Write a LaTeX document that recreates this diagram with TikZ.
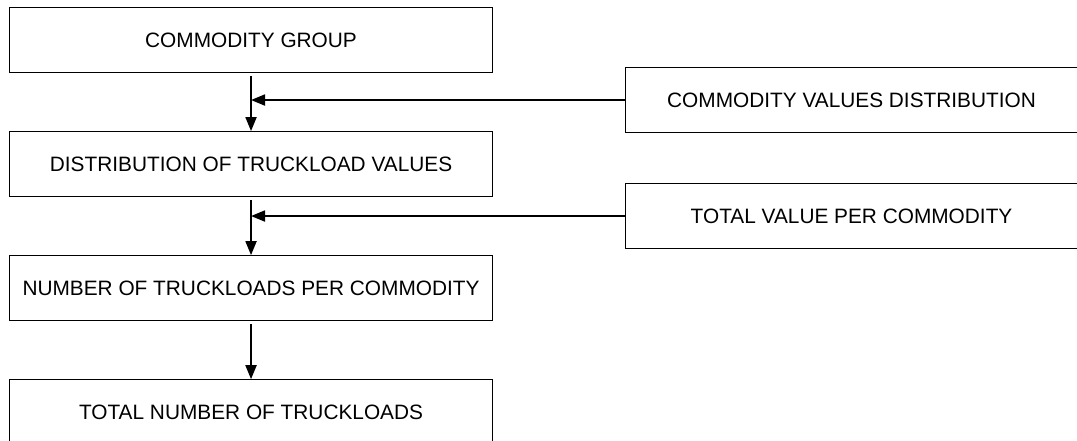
\documentclass[tikz,border=0pt]{standalone}
\usepackage{fontspec}
\setmainfont{Liberation Sans}
\usetikzlibrary{arrows.meta, positioning}

\begin{document}
\begin{tikzpicture}[
  node distance=1.16cm,
  box/.style={draw, line width=0.6pt, minimum width=9.66cm, minimum height=1.3cm, inner sep=0pt, align=center, font=\fontsize{11.85}{14}\selectfont},
  sidebox/.style={box, minimum width=9.04cm},
  flow/.style={line width=1.1pt, -{Triangle[length=0.28cm, width=0.22cm]}}
]
  \useasboundingbox (0,0) rectangle (21.54,-8.8);

  \node[box, anchor=north west] (group) at (0.18,-0.14) {COMMODITY GROUP};
  \node[box, below=of group] (dist) {DISTRIBUTION OF TRUCKLOAD VALUES};
  \node[box, below=of dist] (perload) {NUMBER OF TRUCKLOADS PER COMMODITY};
  \node[box, below=of perload] (total) {TOTAL NUMBER OF TRUCKLOADS};

  \node[sidebox, anchor=north west] (values) at (12.5,-1.34) {COMMODITY VALUES DISTRIBUTION};
  \node[sidebox, anchor=north west] (pervalue) at (12.5,-3.66) {TOTAL VALUE PER COMMODITY};

  \draw[flow, shorten <=0.06cm] (group) -- (dist);
  \draw[flow, shorten <=0.06cm] (dist) -- (perload);
  \draw[flow, shorten <=0.06cm] (perload) -- (total);
  \draw[flow] (values.west) -- (values.west -| group.south);
  \draw[flow] (pervalue.west) -- (pervalue.west -| dist.south);
\end{tikzpicture}
\end{document}
